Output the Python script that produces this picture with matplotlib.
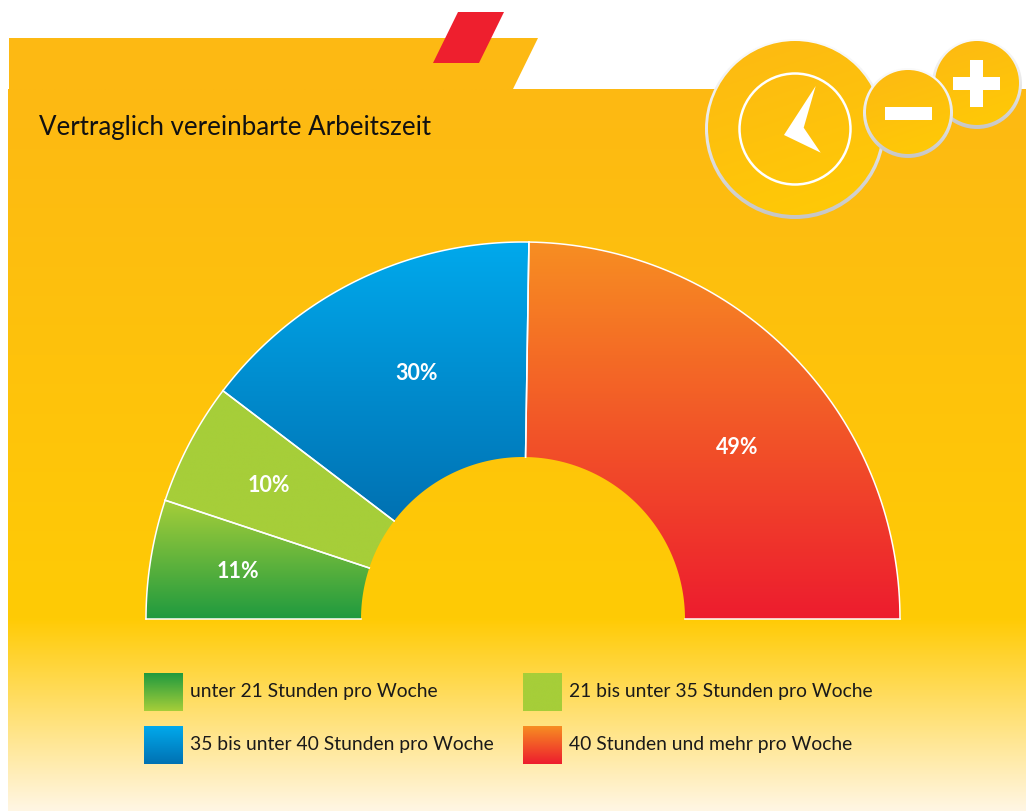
import numpy as np
import matplotlib
matplotlib.use("Agg")
import matplotlib.pyplot as plt
from matplotlib.colors import LinearSegmentedColormap
from matplotlib.patches import Circle, Polygon, Rectangle

title = "Vertraglich vereinbarte Arbeitszeit"
categories = ["unter 21 Stunden pro Woche", "21 bis unter 35 Stunden pro Woche",
              "35 bis unter 40 Stunden pro Woche", "40 Stunden und mehr pro Woche"]
# shares as measured from the slice angles, the labels are the printed ones
values = [10.2, 10.5, 29.8, 49.5]
value_labels = ["11%", "10%", "30%", "49%"]

# gradient top -> bottom for each slice
slice_colors = [("#a6ce39", "#1f9a3f"), ("#a6ce39", "#a6ce39"),
                ("#00a9ec", "#0071b2"), ("#f78e22", "#ed1c2e")]
legend_colors = [("#1f9a3f", "#a6ce39"), ("#a6ce39", "#a6ce39"),
                 ("#00a9ec", "#0071b2"), ("#f78e22", "#ed1c2e")]

W, H = 1026, 811
plt.rcParams["font.family"] = ["Lato", "DejaVu Sans"]

fig = plt.figure(figsize=(W / 100, H / 100), dpi=100)
ax = fig.add_axes([0, 0, 1, 1])
ax.set_xlim(0, W)
ax.set_ylim(H, 0)
ax.axis("off")


def gradient(x0, x1, y0, y1, stops, clip=None, angle=False, z=1):
    # vertical gradient, optionally a bit diagonal
    cmap = LinearSegmentedColormap.from_list("g", stops)
    n = 256
    yy, xx = np.mgrid[0:1:n * 1j, 0:1:n * 1j]
    g = 0.75 * yy + 0.25 * xx if angle else yy
    im = ax.imshow(g, extent=(x0, x1, y1, y0), cmap=cmap, vmin=0, vmax=1,
                   aspect="auto", zorder=z, interpolation="bilinear")
    if clip is not None:
        im.set_clip_path(clip)
    return im


# Hintergrund
bg_stops = [(0, "#fdb913"), ((620 - 89) / 722, "#ffcb05"), (1, "#fff6e3")]
gradient(8, W, 89, H, bg_stops)
ax.add_patch(Polygon([(9, 38), (538, 38), (513, 89), (9, 89)], fc="#fdb913", ec="none", zorder=1))
ax.add_patch(Polygon([(433, 63), (458, 12), (504, 12), (479, 63)], fc="#ee1f2e", ec="none", zorder=2))

ax.text(39, 128, title, fontsize=18.6, color="#111111", va="center", ha="left", zorder=5)

# Halbkreis
cx, cy = 523, 619
r_out, r_in = 377, 162
total = sum(values)
start = 180
label_pos = [(238, 572), (269, 485), (417, 373), (737, 447)]
for i, v in enumerate(values):
    end = start - v / total * 180
    a = np.radians(np.linspace(start, end, 80))
    pts = np.r_[np.c_[cx + r_out * np.cos(a), cy - r_out * np.sin(a)],
                np.c_[cx + r_in * np.cos(a[::-1]), cy - r_in * np.sin(a[::-1])]]
    poly = Polygon(pts, closed=True, fc="none", ec="none", zorder=3)
    ax.add_patch(poly)
    top, bot = pts[:, 1].min(), pts[:, 1].max()
    gradient(pts[:, 0].min(), pts[:, 0].max(), top, bot, slice_colors[i], clip=poly, z=3)
    # white borders, no line on the inner arc
    n = len(a)
    ax.plot(pts[:n, 0], pts[:n, 1], color="white", lw=1.1, zorder=4)
    ax.plot([pts[0, 0], pts[-1, 0]], [pts[0, 1], pts[-1, 1]], color="white", lw=1.1, zorder=4)
    ax.plot([pts[n - 1, 0], pts[n, 0]], [pts[n - 1, 1], pts[n, 1]], color="white", lw=1.1, zorder=4)
    ax.text(label_pos[i][0], label_pos[i][1], value_labels[i], color="white", fontsize=15.5,
            fontweight="bold", ha="center", va="center", zorder=5)
    start = end

# Legende
legend_pos = [(144, 673), (523, 673), (144, 726), (523, 726)]
for i, (lx, ly) in enumerate(legend_pos):
    gradient(lx, lx + 39, ly, ly + 38, legend_colors[i], z=3)
    ax.text(lx + 46, ly + 18.5, categories[i], fontsize=13.9, color="#1a1a1a", va="center", ha="left", zorder=5)


# Symbole
def disk(x, y, r, z):
    rim = Circle((x, y), r, fc="none", ec="none", zorder=z)
    ax.add_patch(rim)
    gradient(x - r, x + r, y - r, y + r, ["#fbfbfb", "#e8e8e8", "#c6c6c6"], clip=rim, z=z)
    face = Circle((x, y - 1), r - 3, fc="none", ec="none", zorder=z + 0.1)
    ax.add_patch(face)
    gradient(x - r, x + r, y - r, y + r, ["#fdb913", "#ffcb05"], clip=face, angle=True, z=z + 0.1)


disk(795, 129, 90, 6)
ax.add_patch(Circle((795, 129), 55.5, fc="none", ec="white", lw=1.8, zorder=7))
ax.add_patch(Polygon([(815.7, 86), (803.7, 127.7), (820.7, 152.7), (784, 135)], fc="white", ec="none", zorder=7))
disk(977, 84, 45, 8)
ax.add_patch(Rectangle((953, 77), 47, 13, fc="white", ec="none", zorder=9))
ax.add_patch(Rectangle((970, 60), 13, 47, fc="white", ec="none", zorder=9))
disk(908, 113, 45, 10)
ax.add_patch(Rectangle((885, 107), 47, 13, fc="white", ec="none", zorder=11))

ax.set_xlim(0, W)
ax.set_ylim(H, 0)
fig.savefig("out.png", dpi=100, facecolor="white")
